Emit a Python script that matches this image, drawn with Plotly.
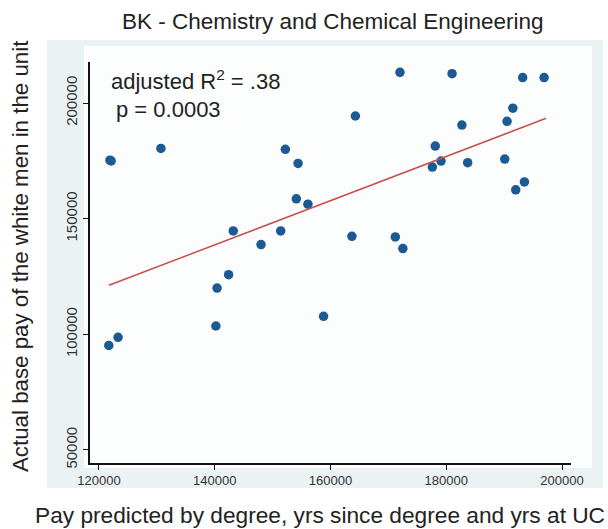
import plotly.graph_objects as go

# Data
pred_pay = [121900, 122100, 121700, 123300, 130700, 140200, 140400, 142400, 143200,
            148000, 151400, 152200, 154100, 154400, 156100, 158800, 163700, 164300,
            171200, 172000, 172500, 177600, 178100, 179100, 181000, 182700, 183700,
            190100, 190500, 191500, 192000, 193200, 193500, 196900]
actual_pay = [175300, 175000, 95200, 98700, 180400, 103600, 120000, 125800, 144700,
              138800, 144700, 180000, 158600, 173900, 156300, 107800, 142400, 194400,
              142100, 213300, 137100, 172300, 181400, 174900, 212700, 190500, 174200,
              175800, 192100, 197800, 162500, 211000, 165900, 211000]
fit_x = [121720, 197240]
fit_y = [121200, 193400]

x_ticks = [120000, 140000, 160000, 180000, 200000]
y_ticks = [50000, 100000, 150000, 200000]

title = "BK - Chemistry and Chemical Engineering"
x_title = "Pay predicted by degree, yrs since degree and yrs at UC"
y_title = "Actual base pay of the white men in the unit"

W, H = 608, 529
L, R, T, B = 90, 571, 62, 463

def px(x):
    return (x - L) / (R - L)

def py(y):
    return (B - y) / (B - T)

fig = go.Figure()
fig.add_trace(go.Scatter(x=pred_pay, y=actual_pay, mode="markers",
                         marker=dict(color="#1C5A94", size=9.5, line=dict(width=0)),
                         showlegend=False, hoverinfo="skip"))
fig.add_trace(go.Scatter(x=fit_x, y=fit_y, mode="lines",
                         line=dict(color="#C8504A", width=1.5),
                         showlegend=False, hoverinfo="skip"))

font = "Liberation Sans, Arial, Helvetica, sans-serif"
fig.update_layout(
    width=W, height=H,
    margin=dict(l=L, r=W - R, t=T, b=H - B, pad=0),
    paper_bgcolor="white", plot_bgcolor="rgba(0,0,0,0)",
    font=dict(family=font, color="#222"),
    xaxis=dict(range=[118452, 201548], tickvals=x_ticks,
               ticktext=[str(v) for v in x_ticks], automargin=False,
               showgrid=False, zeroline=False, showline=True, linecolor="#111",
               linewidth=1.5, ticks="outside", ticklen=5, tickcolor="#111",
               tickfont=dict(size=13, color="#333")),
    yaxis=dict(range=[44372, 217750], tickvals=y_ticks,
               ticktext=[str(v) for v in y_ticks], automargin=False,
               showgrid=False, zeroline=False, showline=True, linecolor="#111",
               linewidth=1.5, ticks="outside", ticklen=5, tickcolor="#111",
               tickangle=-90, tickfont=dict(size=15, color="#333")),
    shapes=[
        dict(type="rect", xref="paper", yref="paper", layer="below",
             x0=px(47), x1=px(603), y0=py(488), y1=py(40),
             fillcolor="#EBF2F4", line=dict(width=0)),
        dict(type="rect", xref="paper", yref="paper", layer="below",
             x0=px(84), x1=px(592), y0=py(468), y1=py(46),
             fillcolor="#FCFDFD", line=dict(width=0)),
    ],
    annotations=[
        dict(text=title, xref="paper", yref="paper", x=px(332), y=py(21),
             showarrow=False, font=dict(size=22.5, color="#222"),
             xanchor="center", yanchor="middle"),
        dict(text=x_title, xref="paper", yref="paper", x=px(320), y=py(515),
             showarrow=False, font=dict(size=22.7, color="#222"),
             xanchor="center", yanchor="middle"),
        dict(text=y_title, xref="paper", yref="paper", x=px(21), y=py(256),
             showarrow=False, textangle=-90, font=dict(size=22.3, color="#222"),
             xanchor="center", yanchor="middle"),
        dict(text="adjusted R<sup>2</sup> = .38", xref="paper", yref="paper",
             x=px(109), y=py(80), showarrow=False,
             font=dict(size=22, color="#222"), xanchor="left", yanchor="middle"),
        dict(text="p = 0.0003", xref="paper", yref="paper",
             x=px(114), y=py(109), showarrow=False,
             font=dict(size=22, color="#222"), xanchor="left", yanchor="middle"),
    ],
)

fig.write_html("out.html", config={"displayModeBar": False},
               post_script="document.body.style.margin='0px';")
